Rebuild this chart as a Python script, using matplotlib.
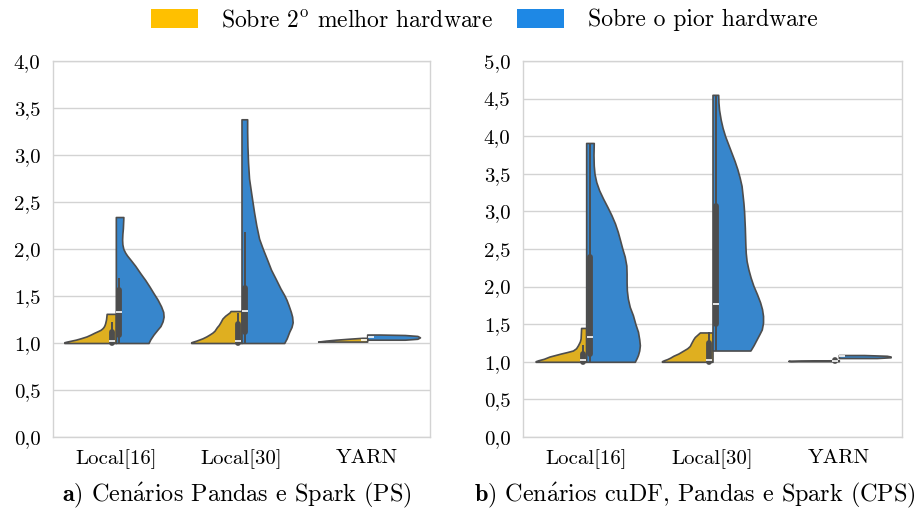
import matplotlib
matplotlib.use("Agg")
import matplotlib.pyplot as plt
from matplotlib.patches import Patch

plt.rcParams['font.family'] = ['cmr10', 'DejaVu Serif']
plt.rcParams['mathtext.fontset'] = 'cm'
plt.rcParams['axes.unicode_minus'] = False

# ---------------- data ----------------
categories = ['Local[16]', 'Local[30]', 'YARN']
series_names = [r'Sobre 2$^{\rm o}$ melhor hardware', 'Sobre o pior hardware']
legend_colors = ['#FFC000', '#1E88E5']
fill_colors = ['#DFAF20', '#3786CC']

# Panel a) PS  -- violin profiles: levels (y) and half widths
ps_second_levels = [
    [1.0, 1.008, 1.015, 1.025, 1.035, 1.05, 1.07, 1.09, 1.11, 1.125, 1.14, 1.155, 1.17, 1.19, 1.21, 1.25, 1.31],
    [1.0, 1.008, 1.015, 1.025, 1.035, 1.05, 1.07, 1.09, 1.11, 1.13, 1.15, 1.17, 1.19, 1.22, 1.26, 1.29, 1.31, 1.325, 1.34],
    [1.015, 1.025, 1.035, 1.045, 1.055],
]
ps_second_widths = [
    [0.41, 0.41, 0.39, 0.355, 0.32, 0.28, 0.233, 0.20, 0.17, 0.145, 0.122, 0.108, 0.098, 0.09, 0.085, 0.078, 0.073],
    [0.40, 0.40, 0.385, 0.36, 0.34, 0.31, 0.28, 0.255, 0.232, 0.215, 0.205, 0.195, 0.182, 0.168, 0.152, 0.13, 0.11, 0.095, 0.087],
    [0.39, 0.33, 0.25, 0.15, 0.04],
]
ps_worst_levels = [
    [1.0, 1.04, 1.09, 1.14, 1.18, 1.23, 1.28, 1.33, 1.39, 1.46, 1.53, 1.60, 1.67, 1.74, 1.82, 1.88, 1.93, 1.96, 2.00, 2.05, 2.10, 2.16, 2.22, 2.28, 2.34],
    [1.0, 1.05, 1.12, 1.17, 1.22, 1.28, 1.33, 1.40, 1.46, 1.51, 1.58, 1.68, 1.78, 1.90, 2.0, 2.11, 2.25, 2.39, 2.55, 2.75, 2.92, 3.10, 3.25, 3.38],
    [1.035, 1.045, 1.06, 1.075, 1.085, 1.09],
]
ps_worst_widths = [
    [0.26, 0.275, 0.30, 0.33, 0.355, 0.372, 0.38, 0.377, 0.36, 0.333, 0.30, 0.268, 0.234, 0.196, 0.155, 0.12, 0.09, 0.075, 0.06, 0.052, 0.05, 0.052, 0.056, 0.058, 0.06],
    [0.34, 0.36, 0.38, 0.398, 0.407, 0.403, 0.393, 0.375, 0.358, 0.34, 0.31, 0.273, 0.235, 0.20, 0.17, 0.14, 0.118, 0.10, 0.082, 0.06, 0.052, 0.047, 0.045, 0.045],
    [0.30, 0.40, 0.42, 0.40, 0.30, 0.10],
]
# box stats: (whisker low, q1, median, q3, whisker high)
ps_second_box = [(1.0, 1.0, 1.025, 1.12, 1.22),
                 (1.0, 1.0, 1.025, 1.20, 1.32),
                 (1.03, 1.028, 1.03, 1.032, 1.03)]
ps_worst_box = [(1.0, 1.09, 1.33, 1.56, 1.69),
                (1.0, 1.12, 1.34, 1.58, 2.18),
                (1.065, 1.063, 1.065, 1.067, 1.065)]

# Panel b) CPS
cps_second_levels = [
    [1.0, 1.008, 1.02, 1.04, 1.07, 1.09, 1.11, 1.13, 1.15, 1.18, 1.22, 1.27, 1.31, 1.45],
    [1.0, 1.008, 1.02, 1.035, 1.055, 1.08, 1.11, 1.15, 1.18, 1.21, 1.25, 1.30, 1.33, 1.36, 1.39],
    [1.008, 1.012, 1.016, 1.02],
]
cps_second_widths = [
    [0.40, 0.40, 0.38, 0.335, 0.29, 0.245, 0.20, 0.15, 0.105, 0.08, 0.065, 0.05, 0.044, 0.04],
    [0.40, 0.40, 0.385, 0.36, 0.335, 0.31, 0.27, 0.23, 0.20, 0.18, 0.168, 0.152, 0.14, 0.12, 0.10],
    [0.38, 0.40, 0.30, 0.05],
]
cps_worst_levels = [
    [1.0, 1.05, 1.09, 1.15, 1.22, 1.30, 1.40, 1.50, 1.62, 1.73, 1.84, 1.95, 2.06, 2.17, 2.28, 2.40, 2.50, 2.62, 2.73, 2.84, 2.95, 3.06, 3.17, 3.28, 3.39, 3.50, 3.61, 3.75, 3.91],
    [1.15, 1.22, 1.30, 1.37, 1.43, 1.52, 1.61, 1.70, 1.79, 1.90, 2.01, 2.12, 2.23, 2.34, 2.45, 2.56, 2.67, 2.78, 2.89, 3.0, 3.11, 3.22, 3.34, 3.45, 3.56, 3.67, 3.78, 3.89, 4.0, 4.11, 4.22, 4.35, 4.45, 4.55],
    [1.05, 1.06, 1.07, 1.08, 1.09],
]
cps_worst_widths = [
    [0.385, 0.40, 0.41, 0.42, 0.425, 0.42, 0.41, 0.39, 0.37, 0.345, 0.33, 0.322, 0.32, 0.32, 0.318, 0.305, 0.287, 0.268, 0.25, 0.228, 0.20, 0.168, 0.134, 0.103, 0.08, 0.066, 0.06, 0.058, 0.06],
    [0.30, 0.325, 0.35, 0.372, 0.39, 0.40, 0.40, 0.392, 0.377, 0.352, 0.324, 0.302, 0.284, 0.27, 0.263, 0.26, 0.258, 0.256, 0.253, 0.25, 0.245, 0.238, 0.23, 0.215, 0.197, 0.175, 0.15, 0.125, 0.10, 0.08, 0.065, 0.052, 0.047, 0.045],
    [0.30, 0.41, 0.41, 0.38, 0.20],
]
cps_second_box = [(1.0, 1.0, 1.03, 1.11, 1.22),
                  (1.0, 1.0, 1.03, 1.25, 1.39),
                  (1.017, 1.015, 1.017, 1.019, 1.017)]
cps_worst_box = [(1.0, 1.10, 1.33, 2.40, 3.91),
                 (1.15, 1.50, 1.77, 3.07, 4.55),
                 (1.08, 1.078, 1.08, 1.082, 1.08)]

ps_yticks = [0.0, 0.5, 1.0, 1.5, 2.0, 2.5, 3.0, 3.5, 4.0]
cps_yticks = [0.0, 0.5, 1.0, 1.5, 2.0, 2.5, 3.0, 3.5, 4.0, 4.5, 5.0]
captions = [r'$\mathbf{a}$) Cen$\mathrm{\acute{a}}$rios Pandas e Spark (PS)',
            r'$\mathbf{b}$) Cen$\mathrm{\acute{a}}$rios cuDF, Pandas e Spark (CPS)']

# ---------------- drawing ----------------
EDGE = '#4d4d4d'
GRID = '#d3d3d3'
BOX_OFF = 0.028

fig = plt.figure(figsize=(9.14, 5.08), dpi=100)
ax1 = fig.add_axes([53 / 914, 71 / 508, 377 / 914, 376 / 508])
ax2 = fig.add_axes([523 / 914, 71 / 508, 379 / 914, 376 / 508])


def draw_panel(ax, lv2, wd2, lvw, wdw, box2, boxw, yticks):
    for i, cat in enumerate(categories):
        for side, (lv, wd, col) in enumerate(
                [(lv2[i], wd2[i], fill_colors[0]),
                 (lvw[i], wdw[i], fill_colors[1])]):
            sign = -1 if side == 0 else 1
            xs = [i + sign * w for w in wd]
            ax.fill_betweenx(lv, xs, [i] * len(lv), facecolor=col,
                             edgecolor=EDGE, linewidth=1.2, zorder=2,
                             joinstyle='round')
        for side, bx in enumerate([box2[i], boxw[i]]):
            sign = -1 if side == 0 else 1
            xp = i + sign * BOX_OFF
            wlo, q1, med, q3, whi = bx
            ax.plot([xp, xp], [wlo, whi], color=EDGE, lw=1.4,
                    solid_capstyle='butt', zorder=3)
            ax.plot([xp, xp], [q1, q3], color=EDGE, lw=4.2,
                    solid_capstyle='round', zorder=4)
            ax.plot([xp], [med], marker='_', color='white', markersize=4.2,
                    mew=1.2, zorder=5)
    ax.set_xlim(-0.5, 2.5)
    ax.set_ylim(yticks[0], yticks[-1])
    ax.set_xticks(range(len(categories)))
    ax.set_xticklabels(categories, fontsize=15)
    ax.set_yticks(yticks)
    ax.set_yticklabels([f"{v:.1f}".replace('.', ',') for v in yticks], fontsize=15)
    ax.tick_params(length=0, pad=9)
    ax.yaxis.grid(True, color=GRID, lw=1.0, zorder=0)
    ax.xaxis.grid(False)
    ax.set_axisbelow(True)
    for s in ax.spines.values():
        s.set_color(GRID)
        s.set_linewidth(1.0)


draw_panel(ax1, ps_second_levels, ps_second_widths, ps_worst_levels,
           ps_worst_widths, ps_second_box, ps_worst_box, ps_yticks)
draw_panel(ax2, cps_second_levels, cps_second_widths, cps_worst_levels,
           cps_worst_widths, cps_second_box, cps_worst_box, cps_yticks)

handles = [Patch(facecolor=c, edgecolor='none') for c in legend_colors]
fig.legend(handles, series_names, loc='center', bbox_to_anchor=(484 / 914, 1 - 20 / 508),
           ncol=2, frameon=False, fontsize=17, handlelength=2.0, handleheight=0.85,
           handletextpad=1.0, columnspacing=1.0, borderpad=0.0)

fig.text(237 / 914, 1 - 495 / 508, captions[0], ha='center', va='center', fontsize=17.4)
fig.text(474 / 914, 1 - 495 / 508, captions[1], ha='left', va='center', fontsize=17.4)

fig.savefig('out.png', dpi=100)
